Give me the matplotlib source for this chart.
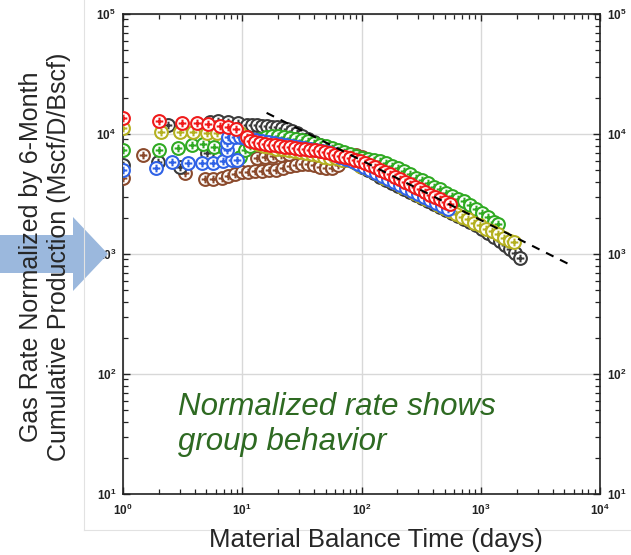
import matplotlib
matplotlib.use('Agg')
import matplotlib.pyplot as plt
from matplotlib.path import Path
from matplotlib.patches import Polygon
from matplotlib.lines import Line2D

plt.rcParams['font.family'] = ['Liberation Sans', 'DejaVu Sans']
plt.rcParams['mathtext.fontset'] = 'custom'
plt.rcParams['mathtext.rm'] = 'Liberation Sans'
plt.rcParams['mathtext.bf'] = 'Liberation Sans:bold'

# material balance time (days) / normalized rate (Mscf/D/Bscf), per well group
black_t = [1.0, 1.95, 2.4, 3.0, 5.06, 5.4, 6.3, 7.6, 9.2, 11.0, 12.1, 13.3, 14.6, 16.1, 17.8, 19.5, 21.5, 23.7, 26.1,
           28.8, 31.7, 35.6, 40.0, 44.9, 50.4, 56.6, 63.5, 71.3, 80.1, 89.9, 101, 113, 127, 143, 161, 180, 202, 227, 255,
           286, 322, 361, 406, 455, 511, 574, 645, 724, 813, 913, 1024, 1150, 1291, 1450, 1597, 1759, 1938, 2134]
black_q = [5510, 5840, 11900, 5310, 6950, 12590, 12830, 12590, 12350, 11890, 11890, 11890, 11660, 11660, 11440, 11330,
           11220, 11010, 10600, 10190, 9620, 9085, 8580, 8095, 7640, 7220, 6810, 6430, 6070, 5730, 5360, 5010, 4690,
           4380, 4140, 3910, 3690, 3480, 3290, 3100, 2930, 2765, 2610, 2464, 2330, 2200, 2070, 1960, 1850, 1730, 1615,
           1500, 1386, 1283, 1190, 1100, 1019, 926]

brown_t = [1.0, 1.47, 3.31, 4.87, 5.68, 6.77, 7.60, 8.70, 9.95, 11.2, 12.8, 14.6, 16.8, 19.2, 22.0, 25.1, 28.2, 31.7,
           35.6, 40.0, 44.9, 50.4, 56.6, 63.5, 71.3, 80.1, 89.9, 101, 113, 127, 143, 161, 180, 202, 227, 255, 286, 322,
           361, 406, 455, 511, 574, 645, 696, 13.3, 15.5, 18.1, 21.1, 24.7]
brown_q = [4300, 6680, 4730, 4220, 4220, 4300, 4470, 4640, 4820, 4820, 4920, 4960, 5010, 5060, 5200, 5410, 5510, 5620,
           5620, 5510, 5360, 5200, 5200, 5510, 6070, 6560, 6680, 6430, 6070, 5730, 5410, 5160, 4920, 4690, 4470, 4260,
           4060, 3830, 3620, 3420, 3230, 3040, 2870, 2710, 2610, 6310, 6430, 6560, 6680, 6810]

green_t = [1.0, 2.0, 2.9, 3.8, 4.7, 5.8, 7.2, 9.6, 10.5, 11.6, 12.8, 14.1, 15.8, 17.8, 19.9, 22.4, 25.1, 28.2, 31.7,
           35.6, 40.0, 44.9, 50.4, 56.6, 63.5, 71.3, 80.1, 89.9, 101, 113, 127, 143, 161, 180, 202, 227, 255, 286, 322,
           361, 406, 455, 511, 574, 645, 724, 813, 913, 1024, 1150, 1291, 1395]
green_q = [7360, 7360, 7650, 8090, 8250, 7800, 7500, 6430, 7360, 7940, 8580, 9085, 9440, 9620, 9620, 9440, 9260, 9085,
           8910, 8660, 8410, 8170, 7940, 7640, 7360, 7080, 6810, 6560, 6370, 6190, 6070, 5960, 5730, 5410, 5160, 4870,
           4600, 4340, 4100, 3870, 3650, 3450, 3250, 3070, 2900, 2740, 2560, 2370, 2200, 2015, 1865, 1780]

olive_t = [1.0, 2.1, 3.0, 3.9, 5.1, 6.1, 7.9, 9.6, 10.8, 12.1, 13.6, 15.2, 17.1, 19.2, 21.5, 24.2, 27.2, 30.5, 34.2,
           38.5, 43.2, 48.5, 54.4, 61.1, 68.6, 77.1, 86.5, 97.1, 109, 123, 138, 154, 173, 195, 219, 246, 276, 310, 347,
           390, 438, 492, 552, 620, 696, 782, 878, 986, 1107, 1243, 1395, 1567, 1759, 1900]
olive_q = [11200, 10400, 10400, 10400, 10200, 10200, 10200, 10190, 9440, 8745, 8250, 7940, 7720, 7570, 7430, 7290,
           7150, 7015, 6880, 6750, 6620, 6490, 6370, 6250, 6130, 6015, 5790, 5460, 5160, 4870, 4600, 4340, 4100, 3870,
           3650, 3450, 3250, 3070, 2900, 2740, 2585, 2440, 2300, 2175, 2050, 1940, 1830, 1730, 1630, 1540, 1454, 1372,
           1295, 1247]

blue_t = [1.0, 1.9, 2.6, 3.5, 4.6, 5.7, 6.9, 8.2, 7.5, 7.5, 7.6, 8.7, 9.0, 9.6, 10.5, 11.6, 13.0, 14.6, 16.4, 18.5,
          20.7, 23.3, 26.1, 29.4, 33.0, 37.0, 41.5, 46.7, 52.4, 58.8, 66.0, 74.1, 83.2, 93.5, 105, 118, 132, 149, 167,
          187, 210, 236, 265, 298, 334, 375, 421, 473, 531]
blue_q = [5010, 5200, 5840, 5730, 5730, 5730, 5960, 6070, 7360, 8410, 9440, 9440, 6070, 9440, 9260, 9085, 8910, 8745,
          8580, 8410, 8250, 8095, 7940, 7790, 7640, 7500, 7360, 7220, 7015, 6750, 6430, 6190, 5900, 5620, 5310, 5010,
          4730, 4470, 4220, 3980, 3760, 3550, 3350, 3160, 2985, 2820, 2660, 2510, 2370]

red_t = [1.0, 2.0, 3.1, 4.2, 5.2, 6.5, 7.6, 8.9, 11.0, 11.6, 12.8, 14.1, 15.5, 17.1, 18.8, 20.7, 22.8, 25.1, 27.7,
         30.5, 33.6, 37.0, 40.8, 44.9, 49.4, 54.4, 60.0, 66.0, 72.7, 80.1, 88.2, 97.1, 107, 118, 130, 143, 157, 173,
         191, 210, 232, 255, 281, 310, 341, 375, 414, 455, 502, 552]
red_q = [13600, 12800, 12350, 12350, 12100, 11650, 11450, 11000, 9440, 8750, 8580, 8410, 8250, 8100, 8020, 7870, 7790,
         7720, 7640, 7570, 7500, 7360, 7290, 7150, 7020, 6880, 6680, 6560, 6430, 6310, 6130, 5960, 5730, 5510, 5310,
         5060, 4820, 4600, 4380, 4180, 3980, 3800, 3620, 3450, 3290, 3130, 2990, 2850, 2710, 2590]

trend_t = [16, 5800]
trend_q = [15000, 800]

xticks = [1, 10, 100, 1000, 10000]
xlabels = [r'$\mathbf{10^{0}}$', r'$\mathbf{10^{1}}$', r'$\mathbf{10^{2}}$', r'$\mathbf{10^{3}}$', r'$\mathbf{10^{4}}$']
yticks = [10, 100, 1000, 10000, 100000]
ylabels = [r'$\mathbf{10^{1}}$', r'$\mathbf{10^{2}}$', r'$\mathbf{10^{3}}$', r'$\mathbf{10^{4}}$', r'$\mathbf{10^{5}}$']

# circle with a plus inside
cross = Path([(-0.6, 0), (0.6, 0), (0, -0.6), (0, 0.6)], [Path.MOVETO, Path.LINETO, Path.MOVETO, Path.LINETO])
oplus = Path.make_compound_path(Path.unit_circle(), cross)

W, H = 631, 555
fig = plt.figure(figsize=(W / 100, H / 100), dpi=100)
ax = fig.add_axes([123 / W, 61 / H, 477 / W, 480 / H])
ax.set_xscale('log')
ax.set_yscale('log')
ax.set_xlim(1, 1e4)
ax.set_ylim(10, 1e5)

series = [(brown_t, brown_q, '#8b4a2c'), (black_t, black_q, '#3a3a3a'), (green_t, green_q, '#2faa22'),
          (olive_t, olive_q, '#b4b020'), (blue_t, blue_q, '#2f62e6'), (red_t, red_q, '#f01a1a')]
for t, q, c in series:
    ax.plot(t, q, ls='none', marker=oplus, ms=9.2, mfc='white', mec=c, mew=1.5, zorder=3)

ax.plot(trend_t, trend_q, color='black', lw=1.5, dashes=(4, 3.5), zorder=4)

ax.grid(True, which='major', color='#d8d8d8', lw=1)
ax.set_axisbelow(True)
for s in ax.spines.values():
    s.set_linewidth(1.2)
    s.set_color('#222222')

ax.set_xticks(xticks)
ax.set_xticklabels(xlabels)
ax.set_yticks(yticks)
ax.set_yticklabels(ylabels)
ax.tick_params(which='both', direction='in', top=True, right=True, labelright=True, colors='#222222')
ax.tick_params(which='major', length=5, width=1, labelsize=8.5)
ax.tick_params(which='minor', length=3.5, width=0.9)
ax.tick_params(axis='x', which='major', pad=6)
ax.tick_params(axis='y', which='major', pad=5)

# faint border of the pasted picture
fig.add_artist(Line2D([84 / W, 84 / W], [1, 1 - 530 / H], transform=fig.transFigure, color='#e2e2e2', lw=0.8))
fig.add_artist(Line2D([84 / W, 1], [1 - 530 / H, 1 - 530 / H], transform=fig.transFigure, color='#e2e2e2', lw=0.8))

# blue arrow pointing at 10^3
arrow_px = [(0, 235), (73, 235), (73, 217), (108, 254), (73, 291), (73, 273), (0, 273)]
fig.add_artist(Polygon([(x / W, 1 - y / H) for x, y in arrow_px], closed=True, transform=fig.transFigure,
                       facecolor='#9bb8dd', edgecolor='none', zorder=1))

fig.text(31 / W, 1 - 257 / H, 'Gas Rate Normalized by 6-Month', rotation=90, ha='center', va='center',
         fontsize=18, color='#262626', zorder=5)
fig.text(59 / W, 1 - 257 / H, 'Cumulative Production (Mscf/D/Bscf)', rotation=90, ha='center', va='center',
         fontsize=18, color='#262626', zorder=5)
fig.text(376 / W, 1 - 540 / H, 'Material Balance Time (days)', ha='center', va='center', fontsize=18.5,
         color='#262626')

fig.text(178 / W, 1 - 415 / H, 'Normalized rate shows', ha='left', va='baseline', fontsize=22.5,
         style='italic', color='#2e6a22')
fig.text(178 / W, 1 - 450 / H, 'group behavior', ha='left', va='baseline', fontsize=22.5,
         style='italic', color='#2e6a22')

fig.savefig('out.png', dpi=100)
